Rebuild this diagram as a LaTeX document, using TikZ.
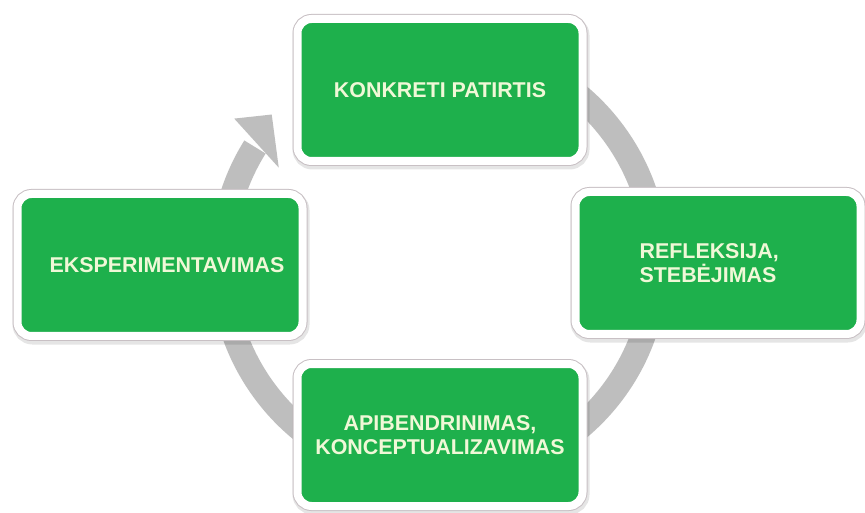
\documentclass[tikz,border=0pt]{standalone}
\usepackage{fontspec}
\setmainfont{Liberation Sans}
\definecolor{boxgreen}{RGB}{30,176,76}
\definecolor{boxtext}{RGB}{240,248,215}
\definecolor{ringgray}{RGB}{190,190,190}
\definecolor{framegray}{RGB}{200,192,196}
\tikzset{
  stagebox/.style={
    preaction={draw=black, opacity=0.10, line width=12pt, transform canvas={xshift=1pt,yshift=-2.5pt}},
    preaction={draw=framegray, line width=10pt},
    draw=white, line width=8pt, fill=boxgreen, rounded corners=14pt,
    minimum width=285pt, minimum height=142pt,
    text=boxtext, font=\bfseries\fontsize{21.4}{24}\selectfont, inner sep=0pt
  },
  ring/.style={draw=ringgray, line width=25pt},
  ringhead/.style={fill=ringgray}
}
\begin{document}
\begin{tikzpicture}[x=1pt,y=1pt]
\useasboundingbox (0,0) rectangle (865,512);
\fill[white] (0,0) rectangle (865,512);
% cycle ring behind the boxes
\begin{scope}[shift={(439pt,250pt)}]
  \draw[ring] (80:217pt) arc[start angle=80, end angle=-212, radius=217pt];
  \fill[ringhead] (149.5:186pt) -- (145:250pt) -- (138.6:223pt) -- cycle;
\end{scope}
\node[stagebox] (top) at (440,422) {KONKRETI PATIRTIS};
\node[stagebox, align=left] (right) at (718,249) {REFLEKSIJA,\hspace*{8pt}\\STEBĖJIMAS\hspace*{20pt}};
\node[stagebox, align=center] (bottom) at (440,77) {APIBENDRINIMAS,\\KONCEPTUALIZAVIMAS};
\node[stagebox] (left) at (160,247) {\hspace*{14pt}EKSPERIMENTAVIMAS};
\end{tikzpicture}
\end{document}
